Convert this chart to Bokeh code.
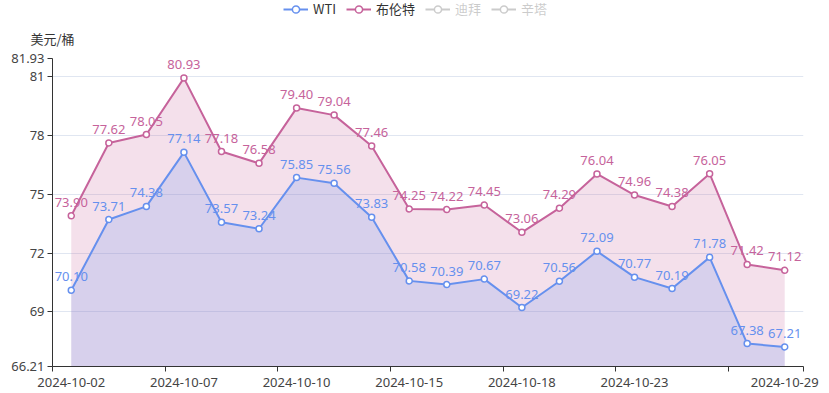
from bokeh.plotting import figure
from bokeh.layouts import column
from bokeh.models import (Range1d, FixedTicker, Legend, LegendItem, ColumnDataSource)
from bokeh.embed import file_html
from bokeh.resources import INLINE
from bokeh.core.properties import value

dates = ["2024-10-02", "2024-10-03", "2024-10-04", "2024-10-07", "2024-10-08", "2024-10-09",
         "2024-10-10", "2024-10-11", "2024-10-14", "2024-10-15", "2024-10-16", "2024-10-17",
         "2024-10-18", "2024-10-21", "2024-10-22", "2024-10-23", "2024-10-24", "2024-10-25",
         "2024-10-28", "2024-10-29"]
wti = [70.10, 73.71, 74.38, 77.14, 73.57, 73.24, 75.85, 75.56, 73.83, 70.58,
       70.39, 70.67, 69.22, 70.56, 72.09, 70.77, 70.19, 71.78, 67.38, 67.21]
brent = [73.90, 77.62, 78.05, 80.93, 77.18, 76.58, 79.40, 79.04, 77.46, 74.25,
         74.22, 74.45, 73.06, 74.29, 76.04, 74.96, 74.38, 76.05, 71.42, 71.12]
series_names = ["WTI", "布伦特", "迪拜", "辛塔"]
y_ticks = [66.21, 69, 72, 75, 78, 81, 81.93]
x_label_idx = [0, 3, 6, 9, 12, 15, 19]
y_min, y_max = 66.21, 81.93
y_unit = "美元/桶"

WTI_C = "#6690ee"
BRENT_C = "#c6639b"
OFF_C = "#333333"
FONT = "Noto Sans CJK SC"
NUM_FONT = "Noto Sans"
W = 821
HEAD_H = 18
TOP_BORDER = 40

# ---------------- header (legend) ----------------
head = figure(width=W, height=HEAD_H, output_backend="svg", toolbar_location=None,
              x_range=Range1d(0, 1), y_range=Range1d(0, 1),
              x_axis_location=None, y_axis_location=None,
              min_border_left=0, min_border_right=0, min_border_top=0, min_border_bottom=0)
head.outline_line_color = None
head.xgrid.visible = False
head.ygrid.visible = False

def legend_pair(color, visible=True):
    ln = head.line([-10, -9], [-10, -10], line_color=color, line_width=2, visible=visible)
    sc = head.scatter([-9.5], [-10], size=6, marker="circle", line_color=color, line_width=1.5,
                      fill_color="white", visible=visible)
    return [ln, sc]

legend = Legend(items=[
    LegendItem(label=series_names[0], renderers=legend_pair(WTI_C)),
    LegendItem(label=series_names[1], renderers=legend_pair(BRENT_C)),
    LegendItem(label=series_names[2], renderers=legend_pair(OFF_C, False)),
    LegendItem(label=series_names[3], renderers=legend_pair(OFF_C, False)),
], orientation="horizontal", location=(231, 0), click_policy="hide",
    glyph_width=25, glyph_height=18, label_standoff=5, spacing=10, padding=0, margin=0,
    border_line_color=None, background_fill_alpha=0,
    label_text_font=FONT, label_text_font_size="13px", label_text_color="#333333",
    inactive_fill_color="white", inactive_fill_alpha=0.75)
head.add_layout(legend)

# ---------------- main chart ----------------
idx = list(range(len(dates)))
src = ColumnDataSource(dict(
    x=idx, wti=wti, brent=brent, base=[y_min] * len(idx),
    wti_t=[f"{v:.2f}" for v in wti], brent_t=[f"{v:.2f}" for v in brent]))

p = figure(width=W, height=393 - HEAD_H, output_backend="svg", toolbar_location=None,
           x_range=Range1d(-0.5, len(dates) - 0.5), y_range=Range1d(y_min, y_max),
           min_border_left=52, min_border_right=18, min_border_top=TOP_BORDER,
           min_border_bottom=27, title=y_unit)
p.title.align = "left"
p.title.offset = -22
p.title.standoff = 19
p.title.vertical_align = "middle"
p.title.text_font = FONT
p.title.text_font_size = "13px"
p.title.text_font_style = "normal"
p.title.text_color = "#333333"
p.outline_line_color = None
p.background_fill_color = "white"

p.varea(x="x", y1="base", y2="brent", source=src, fill_color=BRENT_C, fill_alpha=0.2)
p.varea(x="x", y1="base", y2="wti", source=src, fill_color=WTI_C, fill_alpha=0.2)

p.line("x", "wti", source=src, line_color=WTI_C, line_width=2)
p.scatter("x", "wti", source=src, size=6, marker="circle", line_color=WTI_C,
          line_width=1.5, fill_color="white")
p.line("x", "brent", source=src, line_color=BRENT_C, line_width=2)
p.scatter("x", "brent", source=src, size=6, marker="circle", line_color=BRENT_C,
          line_width=1.5, fill_color="white")

p.text("x", "wti", text="wti_t", source=src, text_color=WTI_C, text_align="center",
       text_baseline="bottom", y_offset=-9, text_font=value(NUM_FONT), text_font_size="13px")
p.text("x", "brent", text="brent_t", source=src, text_color=BRENT_C, text_align="center",
       text_baseline="bottom", y_offset=-9, text_font=value(NUM_FONT), text_font_size="13px")

xa = p.xaxis[0]
xa.ticker = FixedTicker(ticks=x_label_idx,
                        minor_ticks=[-0.5, 2.5, 5.5, 8.5, 11.5, 14.5, 17.5, 19.5])
xa.major_label_overrides = {i: dates[i] for i in x_label_idx}
xa.major_tick_line_color = None
xa.major_tick_out = 0
xa.major_tick_in = 0
xa.minor_tick_out = 5
xa.minor_tick_in = 0
xa.minor_tick_line_color = "#333333"
xa.axis_line_color = "#333333"
xa.major_label_standoff = 6
xa.major_label_text_font = NUM_FONT
xa.major_label_text_font_size = "13px"
xa.major_label_text_color = "#444444"

ya = p.yaxis[0]
ya.ticker = FixedTicker(ticks=y_ticks)
ya.major_label_overrides = {v: (f"{v:.2f}" if v != int(v) else str(int(v))) for v in y_ticks}
ya.minor_tick_line_color = None
ya.major_tick_out = 5
ya.major_tick_in = 0
ya.major_tick_line_color = "#333333"
ya.axis_line_color = "#333333"
ya.major_label_standoff = 3
ya.major_label_text_font = NUM_FONT
ya.major_label_text_font_size = "13px"
ya.major_label_text_color = "#444444"

p.xgrid.grid_line_color = None
p.ygrid.grid_line_color = "#e0e6f1"
p.ygrid.grid_line_width = 1

layout = column(head, p, spacing=0)
open("out.html", "w").write(file_html(layout, INLINE))
